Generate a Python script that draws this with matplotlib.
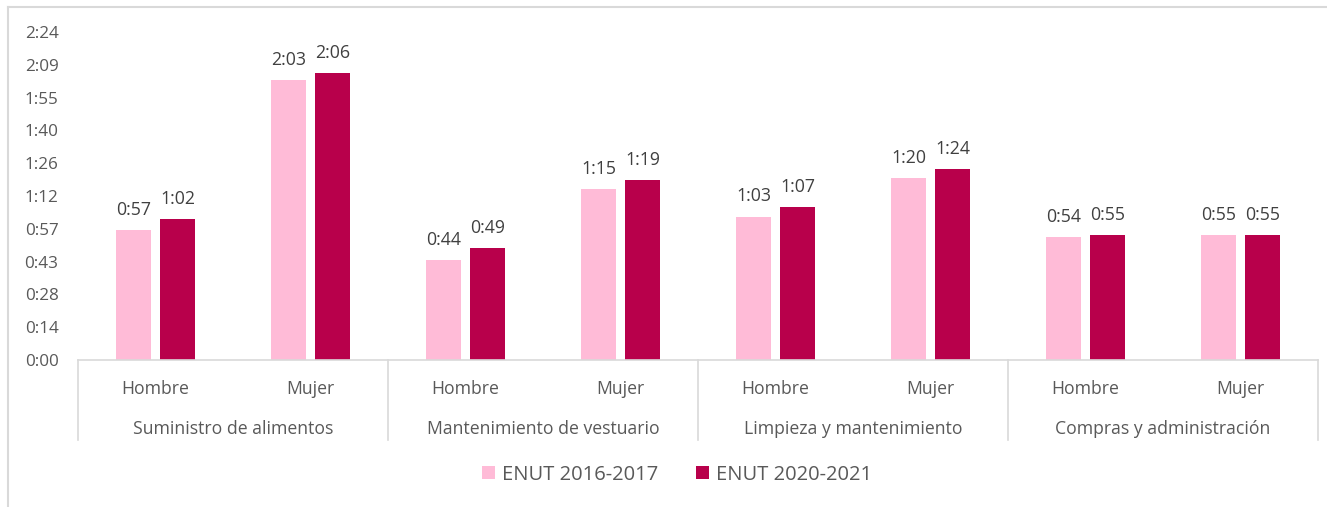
import matplotlib.pyplot as plt
from matplotlib.lines import Line2D
import matplotlib.transforms as mtransforms
import numpy as np

plt.rcParams['font.family'] = ['Open Sans', 'DejaVu Sans']

# datos en minutos
grupos = ["Suministro de alimentos", "Mantenimiento de vestuario",
          "Limpieza y mantenimiento", "Compras y administración"]
sexos = ["Hombre", "Mujer"]
enut_2016 = [57, 123, 44, 75, 63, 80, 54, 55]
enut_2020 = [62, 126, 49, 79, 67, 84, 55, 55]
series = ["ENUT 2016-2017", "ENUT 2020-2021"]
colores = ["#FFBBD7", "#B8004B"]

W, H = 1327, 507
fig = plt.figure(figsize=(W / 100, H / 100), dpi=100)
ax = fig.add_axes([78 / W, 1 - 360 / H, 1240 / W, 328 / H])

def fmt(m):
    m = int(round(m))
    return "{}:{:02d}".format(m // 60, m % 60)

x = np.arange(len(enut_2016)) + 0.5
bw = 0.226
off = 0.142
b1 = ax.bar(x - off, enut_2016, bw, color=colores[0], label=series[0])
b2 = ax.bar(x + off, enut_2020, bw, color=colores[1], label=series[1])

for bars, vals in ((b1, enut_2016), (b2, enut_2020)):
    for b, v in zip(bars, vals):
        ax.annotate(fmt(v), (b.get_x() + b.get_width() / 2, v),
                    xytext=(0, 8), textcoords="offset points",
                    ha="center", va="bottom", fontsize=12.8, color="#404040")

ax.set_xlim(0, 8)
ax.set_ylim(0, 144)
yt = np.arange(11) * 14.4
ax.set_yticks(yt)
ax.set_yticklabels([fmt(int(v)) for v in yt])
ax.tick_params(axis="y", length=0, pad=14, labelsize=12.3, labelcolor="#595959")
ax.set_xticks([])
for s in ("top", "right", "left"):
    ax.spines[s].set_visible(False)
ax.spines["bottom"].set_color("#d9d9d9")
ax.spines["bottom"].set_linewidth(1.2)

trans = mtransforms.blended_transform_factory(ax.transData, ax.transAxes)
for xs in range(0, 9, 2):
    ax.plot([xs, xs], [0, -80 / 328], transform=trans, color="#d9d9d9",
            lw=1.2, clip_on=False)
for i, xc in enumerate(x):
    ax.text(xc, -29 / 328, sexos[i % 2], transform=trans, ha="center",
            va="center", fontsize=12.7, color="#595959")
for j, g in enumerate(grupos):
    ax.text(2 * j + 1, -69 / 328, g, transform=trans, ha="center",
            va="center", fontsize=12.7, color="#595959")

leg = fig.legend(loc="center", bbox_to_anchor=(677 / W, 1 - 475 / H), ncol=2,
                 frameon=False, fontsize=14.5, handlelength=0.62,
                 handleheight=0.62, handletextpad=0.35, columnspacing=1.9,
                 labelcolor="#595959")

fig.add_artist(Line2D([8 / W, 1], [1 - 7 / H, 1 - 7 / H], color="#d9d9d9", lw=1.5))
fig.add_artist(Line2D([8 / W, 8 / W], [0, 1 - 7 / H], color="#d9d9d9", lw=1.5))

fig.savefig("out.png", dpi=100)
